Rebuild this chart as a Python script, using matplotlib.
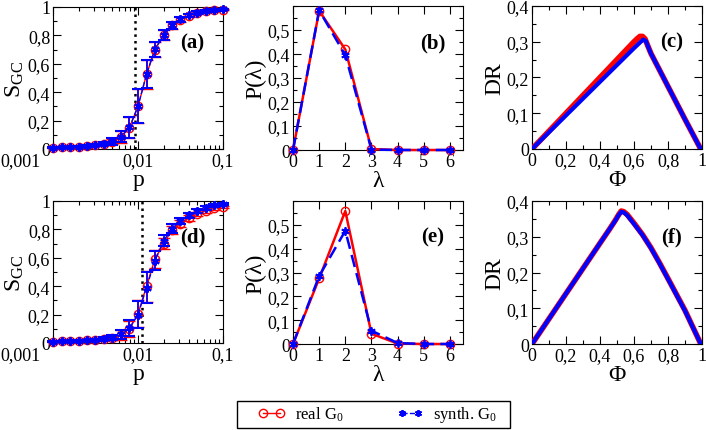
import numpy as np
import matplotlib
matplotlib.use("Agg")
import matplotlib.pyplot as plt
from matplotlib.ticker import FuncFormatter, MultipleLocator, FixedLocator, LogLocator, NullFormatter
from matplotlib.lines import Line2D
from matplotlib.patches import Rectangle
import matplotlib.transforms as mtransforms

plt.rcParams['font.family'] = ['Liberation Serif', 'DejaVu Serif']
plt.rcParams['mathtext.fontset'] = 'custom'
plt.rcParams['mathtext.rm'] = 'Liberation Serif'
plt.rcParams['mathtext.it'] = 'Liberation Serif:italic'
plt.rcParams['mathtext.bf'] = 'Liberation Serif:bold'

# ---------------- data ----------------
p_vals = [0.001, 0.00126, 0.00158, 0.002, 0.00251, 0.00316, 0.00398, 0.00501, 0.00631, 0.00794,
          0.01, 0.0126, 0.0158, 0.02, 0.0251, 0.0316, 0.0398, 0.0501, 0.0631, 0.0794, 0.1]

sgc_real_a = [0.010, 0.012, 0.014, 0.017, 0.021, 0.027, 0.035, 0.052, 0.085, 0.150, 0.300,
              0.525, 0.700, 0.800, 0.870, 0.910, 0.940, 0.960, 0.970, 0.978, 0.982]
sgc_synth_a = [0.010, 0.012, 0.014, 0.017, 0.021, 0.027, 0.036, 0.053, 0.087, 0.152, 0.302,
               0.527, 0.702, 0.802, 0.872, 0.912, 0.942, 0.961, 0.972, 0.979, 0.983]
err_real_a = [0.003, 0.003, 0.003, 0.004, 0.005, 0.007, 0.010, 0.020, 0.040, 0.075, 0.120,
              0.100, 0.055, 0.035, 0.025, 0.018, 0.012, 0.009, 0.007, 0.005, 0.004]
err_synth_a = [0.003, 0.003, 0.003, 0.004, 0.005, 0.007, 0.010, 0.022, 0.040, 0.072, 0.120,
               0.100, 0.055, 0.035, 0.025, 0.018, 0.012, 0.009, 0.007, 0.005, 0.004]
pc_a = 0.0091

sgc_real_d = [0.010, 0.011, 0.013, 0.015, 0.018, 0.022, 0.028, 0.036, 0.058, 0.100, 0.205,
              0.400, 0.590, 0.700, 0.795, 0.840, 0.880, 0.910, 0.930, 0.950, 0.960]
sgc_synth_d = [0.010, 0.011, 0.013, 0.015, 0.018, 0.023, 0.029, 0.038, 0.060, 0.105, 0.200,
               0.390, 0.580, 0.720, 0.805, 0.860, 0.900, 0.930, 0.950, 0.970, 0.980]
err_real_d = [0.003, 0.003, 0.003, 0.004, 0.005, 0.007, 0.010, 0.018, 0.035, 0.055, 0.095,
              0.110, 0.065, 0.040, 0.030, 0.025, 0.020, 0.016, 0.013, 0.010, 0.008]
err_synth_d = [0.003, 0.003, 0.003, 0.004, 0.005, 0.007, 0.010, 0.018, 0.035, 0.055, 0.095,
               0.110, 0.065, 0.040, 0.030, 0.022, 0.018, 0.014, 0.012, 0.010, 0.008]
pc_d = 0.0112

lam = [0, 1, 2, 3, 4, 5, 6]
plam_real_b = [0.0, 0.580, 0.419, 0.004, 0.0, 0.0, 0.0]
plam_synth_b = [0.0, 0.582, 0.395, 0.002, 0.0, 0.0, 0.0]
plam_real_e = [0.0, 0.275, 0.558, 0.043, 0.002, 0.0, 0.0]
plam_synth_e = [0.0, 0.285, 0.475, 0.056, 0.004, 0.0, 0.0]

phi_real_c = [0.0, 0.1, 0.2, 0.3, 0.4, 0.5, 0.6, 0.62, 0.635, 0.65, 0.665, 0.68, 0.7, 0.8, 0.9, 0.99]
dr_real_c = [0.0, 0.050, 0.100, 0.150, 0.200, 0.250, 0.300, 0.309, 0.315, 0.315, 0.308, 0.290, 0.267, 0.175, 0.083, 0.002]
phi_synth_c = [0.0, 0.1, 0.2, 0.3, 0.4, 0.5, 0.6, 0.62, 0.64, 0.655, 0.67, 0.69, 0.7, 0.8, 0.9, 0.99]
dr_synth_c = [0.0, 0.047, 0.094, 0.141, 0.188, 0.235, 0.282, 0.291, 0.300, 0.306, 0.302, 0.278, 0.267, 0.175, 0.083, 0.002]

phi_real_f = [0.0, 0.1, 0.2, 0.3, 0.4, 0.46, 0.49, 0.51, 0.525, 0.54, 0.56, 0.6, 0.65, 0.7, 0.75, 0.8, 0.9, 0.99]
dr_real_f = [0.0, 0.0705, 0.141, 0.2115, 0.282, 0.324, 0.346, 0.362, 0.372, 0.370, 0.362, 0.338, 0.306, 0.269, 0.227, 0.183, 0.094, 0.003]
phi_synth_f = [0.0, 0.1, 0.2, 0.3, 0.4, 0.46, 0.49, 0.51, 0.525, 0.54, 0.56, 0.6, 0.65, 0.7, 0.75, 0.8, 0.9, 0.99]
dr_synth_f = [0.0, 0.0705, 0.141, 0.2115, 0.282, 0.324, 0.345, 0.361, 0.370, 0.368, 0.360, 0.336, 0.305, 0.268, 0.226, 0.182, 0.093, 0.003]

RED = '#ff0000'
BLUE = '#0000ff'
SERIF = 'Liberation Serif'

# ---------------- figure ----------------
W, H = 706, 431
fig = plt.figure(figsize=(W / 100, H / 100), dpi=100)


def add_ax(l, r, t, b):
    return fig.add_axes([l / W, 1 - b / H, (r - l) / W, (b - t) / H])


def comma(x, pos):
    if abs(x) < 1e-12:
        return '0'
    s = ('%.3f' % x).rstrip('0').rstrip('.')
    return s.replace('.', ',')


def style(ax):
    ax.tick_params(which='both', direction='in', top=True, right=True, labelsize=13,
                   width=0.8, colors='black', pad=2, labelfontfamily=SERIF)
    ax.tick_params(which='major', length=6)
    ax.tick_params(which='minor', length=3)
    for s in ax.spines.values():
        s.set_linewidth(0.8)
    ax.xaxis.set_major_formatter(FuncFormatter(comma))
    ax.yaxis.set_major_formatter(FuncFormatter(comma))


def panel_label(ax, txt):
    ax.text(0.82, 0.75, txt, transform=ax.transAxes, ha='center', va='center',
            fontsize=15, fontweight='bold', family=SERIF)


def sgc_panel(ax, real, synth, er, es, pc, lab):
    ax.set_xscale('log')
    ax.errorbar(p_vals, real, yerr=er, color=RED, lw=1.0, marker='o', ms=6, mfc='none',
                mec=RED, mew=1.0, capsize=4.5, capthick=1.2, elinewidth=1.2, clip_on=False, zorder=3)
    ax.errorbar(p_vals, synth, yerr=es, color=BLUE, lw=1.0, ls='--', marker=(6, 2, 0), ms=6,
                mec=BLUE, mew=1.5, capsize=4.5, capthick=1.2, elinewidth=1.2, clip_on=False, zorder=4)
    ax.axvline(pc, color='black', ls=':', lw=1.8, zorder=2)
    ax.set_xlim(0.001, 0.1)
    ax.set_ylim(0, 1)
    style(ax)
    ax.xaxis.set_major_locator(FixedLocator([0.001, 0.01, 0.1]))
    ax.xaxis.set_minor_locator(LogLocator(base=10, subs=np.arange(2, 10)))
    ax.xaxis.set_minor_formatter(NullFormatter())
    ax.xaxis.set_major_formatter(FuncFormatter(comma))
    ax.yaxis.set_major_locator(MultipleLocator(0.2))
    ax.yaxis.set_minor_locator(MultipleLocator(0.1))
    ax.set_xlabel('p', fontsize=17, labelpad=0, family=SERIF)
    ax.set_ylabel(r'S$_{\rm GC}$', fontsize=17, labelpad=1, family=SERIF)
    panel_label(ax, lab)
    fig.canvas.draw()
    first = ax.get_xticklabels()[0]
    first.set_ha('right')
    first.set_transform(first.get_transform() +
                        mtransforms.ScaledTranslation(-12 / 100, 0, fig.dpi_scale_trans))


def plam_panel(ax, real, synth, lab):
    ax.plot(lam, real, color=RED, lw=1.8, marker='o', ms=6, mfc='none', mec=RED, mew=1.0,
            clip_on=False, zorder=3)
    ax.plot(lam, synth, color=BLUE, lw=1.8, ls=(0, (5, 2.5)), marker=(6, 2, 0), ms=6,
            mec=BLUE, mew=1.3, clip_on=False, zorder=4)
    ax.set_xlim(0, 6.5)
    ax.set_ylim(0, 0.6)
    style(ax)
    ax.xaxis.set_major_locator(MultipleLocator(1))
    ax.yaxis.set_major_locator(FixedLocator([0, 0.1, 0.2, 0.3, 0.4, 0.5]))
    ax.yaxis.set_minor_locator(MultipleLocator(0.05))
    ax.set_xlabel('λ', fontsize=17, labelpad=0, family=SERIF)
    ax.set_ylabel('P(λ)', fontsize=17, labelpad=1, family=SERIF)
    panel_label(ax, lab)


def dr_panel(ax, pr, dr, ps, ds, lab):
    ax.plot(pr, dr, color=RED, lw=4.0, solid_capstyle='round', solid_joinstyle='round', zorder=3)
    ax.plot(ps, ds, color=BLUE, lw=3.0, solid_capstyle='round', solid_joinstyle='round', zorder=4)
    ax.set_xlim(0, 1)
    ax.set_ylim(0, 0.4)
    style(ax)
    ax.xaxis.set_major_locator(MultipleLocator(0.2))
    ax.xaxis.set_minor_locator(MultipleLocator(0.1))
    ax.yaxis.set_major_locator(MultipleLocator(0.1))
    ax.yaxis.set_minor_locator(MultipleLocator(0.05))
    ax.set_xlabel('Φ', fontsize=17, labelpad=0, family=SERIF)
    ax.set_ylabel('DR', fontsize=17, labelpad=1, family=SERIF)
    panel_label(ax, lab)


ax_a = add_ax(53, 223, 8, 150)
ax_b = add_ax(293, 463, 7, 151)
ax_c = add_ax(532, 702, 7, 150)
ax_d = add_ax(53, 223, 202, 344)
ax_e = add_ax(293, 463, 202, 345)
ax_f = add_ax(532, 702, 202, 345)

plam_panel(ax_b, plam_real_b, plam_synth_b, '(b)')
plam_panel(ax_e, plam_real_e, plam_synth_e, '(e)')
dr_panel(ax_c, phi_real_c, dr_real_c, phi_synth_c, dr_synth_c, '(c)')
dr_panel(ax_f, phi_real_f, dr_real_f, phi_synth_f, dr_synth_f, '(f)')
sgc_panel(ax_a, sgc_real_a, sgc_synth_a, err_real_a, err_synth_a, pc_a, '(a)')
sgc_panel(ax_d, sgc_real_d, sgc_synth_d, err_real_d, err_synth_d, pc_d, '(d)')

# legend box
fig.patches.append(Rectangle((237 / W, 1 - 429 / H), 273 / W, 27 / H, transform=fig.transFigure,
                             fill=False, ec='black', lw=1.0))
h_real = Line2D([], [], color=RED, lw=1.0, marker='o', ms=6, mfc='none', mec=RED, mew=1.0)
h_synth = Line2D([], [], color=BLUE, lw=1.0, ls='--', marker=(6, 2, 0), ms=5, mec=BLUE, mew=1.3)
leg = fig.legend([h_real, h_synth], [r'real G$_0$', r'synth. G$_0$'], loc='center left',
                 bbox_to_anchor=(258 / W, 1 - 415.5 / H), ncol=2,
                 prop={'family': SERIF, 'size': 12}, numpoints=2, handlelength=1.6, frameon=False,
                 borderaxespad=0, borderpad=0, handletextpad=0.6, columnspacing=3.2)

fig.savefig('out.png', dpi=100)
